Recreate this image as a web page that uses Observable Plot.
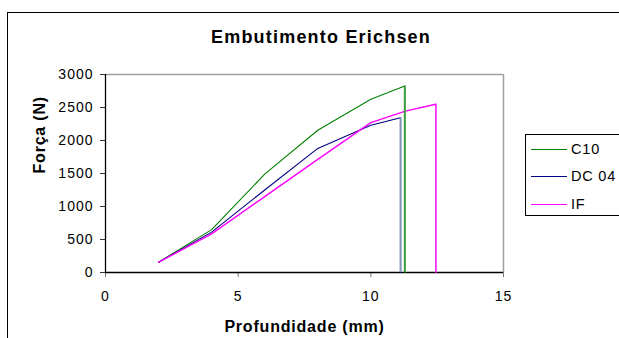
<!DOCTYPE html>
<html>
<head>
<meta charset="utf-8">
<script src="https://cdn.jsdelivr.net/npm/d3@7"></script>
<script src="https://cdn.jsdelivr.net/npm/@observablehq/plot@0.6"></script>
<style>
  html, body { margin: 0; padding: 0; background: #fff; }
  body { width: 619px; height: 338px; overflow: hidden; position: relative; font-family: "Liberation Sans", Arial, sans-serif; }
  #wrap { position: absolute; left: 0; top: 0; width: 619px; height: 338px; }
  #wrap svg { position: absolute; left: 0; top: 0; background: transparent; }
  #outer { position: absolute; left: 7px; top: 12px; width: 700px; height: 400px; border: 1px solid #000; box-sizing: border-box; }
  #title { position: absolute; top: 28px; left: 321px; transform: translateX(-50%); white-space: nowrap;
           font-weight: bold; font-size: 18px; line-height: 18px; letter-spacing: 1.2px; color: #000; }
  #legend { position: absolute; left: 525px; top: 134px; width: 120px; height: 82px; border: 1px solid #000; box-sizing: border-box; background: #fff; }
  .sw { position: absolute; left: 5px; width: 36px; height: 0; }
  .lt { position: absolute; left: 45px; font-size: 14.5px; line-height: 14px; letter-spacing: 0.8px; color: #000; white-space: nowrap; }
  .chart text { font-family: "Liberation Sans", Arial, sans-serif; }
  .chart [aria-label="x-axis tick label"] text, .chart [aria-label="y-axis tick label"] text { letter-spacing: 1px; }
</style>
</head>
<body>
<div id="outer"></div>
<div id="wrap"></div>
<div id="title">Embutimento Erichsen</div>
<div id="legend"></div>
<script>
// Erichsen cupping test: punch force vs. depth for three steels
const seriesNames = ["C10", "DC 04", "IF"];
const seriesColors = ["#008000", "#000080", "#ff00ff"];
const dropColors = ["#3f9f3f", "#8096b6", "#ff33ff"];
const dropWidths = [2, 2, 1];

// depth (mm) and force (N) readings per material; last point is the fracture
const c10Depth = [2, 4, 6, 8, 10, 11.28];
const c10Force = [155, 650, 1490, 2155, 2625, 2825];
const dc04Depth = [2, 4, 6, 8, 10, 11.12];
const dc04Force = [155, 612, 1250, 1880, 2230, 2345];
const ifDepth = [2, 4, 6, 8, 10, 11.3, 12.45];
const ifForce = [155, 585, 1150, 1715, 2270, 2445, 2550];

const xTicks = [0, 5, 10, 15];
const yTicks = [0, 500, 1000, 1500, 2000, 2500, 3000];

const depths = [c10Depth, dc04Depth, ifDepth];
const forces = [c10Force, dc04Force, ifForce];

// curve points, each series closed by a drop to zero force at fracture
const curve = [];
const drops = [];
depths.forEach((xs, s) => {
  xs.forEach((x, i) => curve.push({series: seriesNames[s], depth: x, force: forces[s][i]}));
  const last = xs.length - 1;
  curve.push({series: seriesNames[s], depth: xs[last], force: 0});
  drops.push({series: seriesNames[s], depth: xs[last], force: forces[s][last], color: dropColors[s], width: dropWidths[s]});
});

const chart = Plot.plot({
  className: "chart",
  width: 619,
  height: 338,
  marginLeft: 105,
  marginRight: 116,
  marginTop: 74,
  marginBottom: 66,
  style: {fontSize: "14px", color: "#000", background: "transparent"},
  x: {domain: [0, 15]},
  y: {domain: [0, 3000]},
  color: {domain: seriesNames, range: seriesColors},
  marks: [
    Plot.ruleY([3000], {stroke: "#a0a0a0", strokeWidth: 1.5}),
    Plot.ruleX([15], {stroke: "#a0a0a0", strokeWidth: 1.5}),
    Plot.axisX({ticks: xTicks, tickFormat: d => String(d), tickSize: 5, tickPadding: 14, stroke: "#777", label: null}),
    Plot.axisY({ticks: yTicks, tickFormat: d => String(d), tickSize: 5, tickPadding: 7, stroke: "#333", label: null}),
    Plot.ruleX([0], {stroke: "#000", strokeWidth: 1.3}),
    Plot.ruleY([0], {stroke: "#000", strokeWidth: 1.3}),
    Plot.line(curve, {x: "depth", y: "force", z: "series", stroke: "series", strokeWidth: d => d.series === "IF" ? 1.4 : 1.1}),
    Plot.ruleX(drops, {x: "depth", y1: 0, y2: "force", stroke: d => d.color, strokeWidth: d => d.width}),
    Plot.text(["Profundidade (mm)"], {frameAnchor: "bottom", dy: 59, fontWeight: "bold", fontSize: 16, fill: "#000"}),
    Plot.text(["Força (N)"], {frameAnchor: "left", rotate: -90, dx: -66, fontWeight: "bold", fontSize: 16, fill: "#000"})
  ]
});
document.getElementById("wrap").appendChild(chart);

// bold axis titles get slightly wider tracking
chart.querySelectorAll("text").forEach(t => {
  if (t.textContent === "Profundidade (mm)" || t.textContent === "Força (N)") t.style.letterSpacing = "0.8px";
});

// legend box
const legend = document.getElementById("legend");
const rowY = [15, 42, 70];
seriesNames.forEach((name, i) => {
  const sw = document.createElement("div");
  sw.className = "sw";
  sw.style.top = (rowY[i] - 1) + "px";
  sw.style.borderTop = (name === "IF" ? 1.5 : 1) + "px solid " + seriesColors[i];
  legend.appendChild(sw);
  const lt = document.createElement("div");
  lt.className = "lt";
  lt.style.top = (rowY[i] - 8) + "px";
  lt.textContent = name;
  legend.appendChild(lt);
});
</script>
</body>
</html>
